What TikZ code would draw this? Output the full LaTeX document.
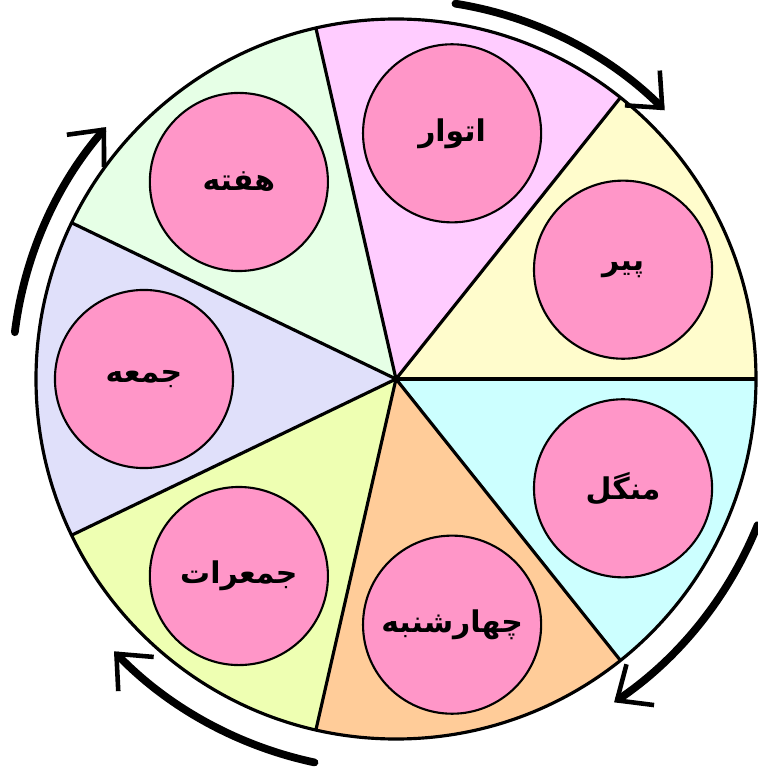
\documentclass[tikz,border=0pt]{standalone}
\usepackage{fontspec}
\usepackage{xcolor}
\usetikzlibrary{arrows.meta, calc}
\TeXXeTstate=1
\newfontfamily\urdufont[Script=Arabic]{DejaVu Sans}
\definecolor{dayrose}{RGB}{255, 150, 200}
\definecolor{secpir}{RGB}{255, 252, 204}
\definecolor{secitwar}{RGB}{255, 204, 255}
\definecolor{sechafta}{RGB}{230, 255, 230}
\definecolor{secjumma}{RGB}{224, 224, 250}
\definecolor{secjumeraat}{RGB}{238, 255, 178}
\definecolor{secbudh}{RGB}{255, 204, 153}
\definecolor{secmangal}{RGB}{204, 255, 255}

\begin{document}
\begin{tikzpicture}[x=0.01cm, y=0.01cm,
    daybox/.style={circle, draw=black, line width=0.6pt, fill=dayrose,
      minimum size=1.78cm, inner sep=0pt, font=\urdufont\bfseries\fontsize{8.5}{11}\selectfont},
    spoke/.style={line width=0.9pt, black},
    cycarrow/.style={line width=2.2pt, line cap=round,
      -{Straight Barb[length=8pt, width=14pt, line width=1.3pt]}}]
        \useasboundingbox (-396,-394) rectangle (362,379);
        % Sectors of the week
        \foreach \a/\col in {0/secpir, 1/secitwar, 2/sechafta, 3/secjumma,
                             4/secjumeraat, 5/secbudh, 6/secmangal}{
          \fill[\col] (0,0) -- (\a*360/7:360)
            arc[start angle=\a*360/7, end angle=\a*360/7+360/7, radius=360] -- cycle;
        }
        \foreach \a in {0,...,6}
          \draw[spoke] (0,0) -- (\a*360/7:360);
        \draw[spoke] (0,0) circle (360);
        % Days
        \foreach \a/\name/\txt in {77.14/itwar/اتوار, 25.71/pir/پیر,
                                   -25.71/mangal/منگل, -77.14/budh/چهارشنبه,
                                   -128.57/jumeraat/جمعرات, 180/jumma/جمعه,
                                   128.57/hafta/هفته}{
          \node[daybox] (\name) at (\a:252) {\beginR\txt\endR};
        }
        % Direction of the cycle
        \draw[cycarrow] (81:380) arc[start angle=81, end angle=45, radius=380];
        \draw[cycarrow] (-22:390) arc[start angle=-22, end angle=-56, radius=390];
        \draw[cycarrow] (258:392) arc[start angle=258, end angle=224, radius=392];
        \draw[cycarrow] (173:384) arc[start angle=173, end angle=139, radius=384];
      \end{tikzpicture}
\end{document}
